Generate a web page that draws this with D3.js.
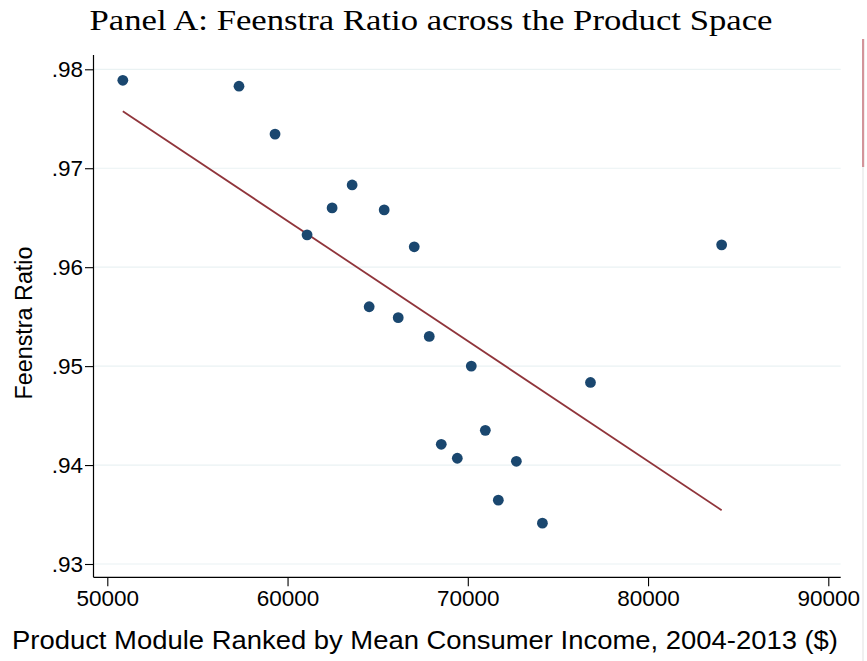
<!DOCTYPE html>
<html>
<head>
<meta charset="utf-8">
<script src="https://cdn.jsdelivr.net/npm/d3@7"></script>
<style>
  html, body { margin: 0; padding: 0; background: #ffffff; }
  svg { display: block; }
</style>
</head>
<body>
<svg id="chart" width="867" height="661"></svg>
<script>
// ---- data ----
const incomeX = [50861, 57306, 59306, 63583, 62472, 65361, 61083, 67028, 84083, 64528,
                 66139, 67861, 70194, 76806, 70972, 68528, 69417, 72694, 71694, 74139];
const feenstraY = [0.97889, 0.97829, 0.97345, 0.96831, 0.96599, 0.96579, 0.96327, 0.96206, 0.96226, 0.95600,
                   0.95490, 0.95300, 0.95000, 0.94835, 0.94351, 0.94210, 0.94069, 0.94038, 0.93645, 0.93413];
const fitX = [50861, 84083];
const fitY = [0.97577, 0.93544];
const xTicks = [50000, 60000, 70000, 80000, 90000];
const yTicks = [0.93, 0.94, 0.95, 0.96, 0.97, 0.98];
const yTickLabels = [".93", ".94", ".95", ".96", ".97", ".98"];
const titleText = "Panel A: Feenstra Ratio across the Product Space";
const xTitle = "Product Module Ranked by Mean Consumer Income, 2004-2013 ($)";
const yTitle = "Feenstra Ratio";

// ---- layout ----
const svg = d3.select("#chart");
const plotLeft = 93.5, plotRight = 840.7, plotTop = 55, plotBottom = 577.3;

const x = d3.scaleLinear().domain([50000, 90000]).range([107.3, 828.3]);
const y = d3.scaleLinear().domain([0.93, 0.98]).range([564, 69.3]);

const sansFont = "'Liberation Sans', Arial, Helvetica, sans-serif";

// gridlines
svg.append("g").selectAll("line").data(yTicks).join("line")
  .attr("x1", plotLeft).attr("x2", plotRight)
  .attr("y1", d => y(d)).attr("y2", d => y(d))
  .attr("stroke", "#eaf2f3").attr("stroke-width", 1.2);

// fit line
svg.append("path")
  .datum(fitX.map((d, i) => [d, fitY[i]]))
  .attr("d", d3.line().x(d => x(d[0])).y(d => y(d[1])))
  .attr("fill", "none").attr("stroke", "#90353b").attr("stroke-width", 1.8);

// points
svg.append("g").selectAll("circle").data(incomeX.map((d, i) => [d, feenstraY[i]])).join("circle")
  .attr("cx", d => x(d[0])).attr("cy", d => y(d[1])).attr("r", 5.4)
  .attr("fill", "#1a476f");

// y axis
const yAxis = d3.axisLeft(y).tickValues(yTicks).tickFormat((d, i) => yTickLabels[i])
  .tickSize(8.5).tickPadding(2).tickSizeOuter(0);
const yg = svg.append("g").attr("transform", `translate(${plotLeft},0)`).call(yAxis);
yg.select(".domain").remove();
yg.selectAll(".tick line").attr("stroke", "#000").attr("stroke-width", 1.1);
yg.selectAll(".tick text").attr("font-family", sansFont).attr("font-size", 22.5).attr("fill", "#000");
svg.append("line").attr("x1", plotLeft).attr("x2", plotLeft).attr("y1", plotTop).attr("y2", plotBottom)
  .attr("stroke", "#000").attr("stroke-width", 1.2);

// x axis
const xAxis = d3.axisBottom(x).tickValues(xTicks).tickFormat(d3.format("d"))
  .tickSize(9).tickPadding(4).tickSizeOuter(0);
const xg = svg.append("g").attr("transform", `translate(0,${plotBottom})`).call(xAxis);
xg.select(".domain").remove();
xg.selectAll(".tick line").attr("stroke", "#000").attr("stroke-width", 1.1);
xg.selectAll(".tick text").attr("font-family", sansFont).attr("font-size", 22.5).attr("fill", "#000");
svg.append("line").attr("x1", plotLeft).attr("x2", plotRight).attr("y1", plotBottom).attr("y2", plotBottom)
  .attr("stroke", "#000").attr("stroke-width", 1.2);

// axis titles
svg.append("text").attr("x", 425).attr("y", 649).attr("text-anchor", "middle")
  .attr("font-family", sansFont).attr("font-size", 25)
  .attr("textLength", 826).attr("lengthAdjust", "spacingAndGlyphs")
  .attr("fill", "#000").text(xTitle);
svg.append("text").attr("transform", "translate(32,323) rotate(-90)").attr("text-anchor", "middle")
  .attr("font-family", sansFont).attr("font-size", 23.5)
  .attr("textLength", 153).attr("lengthAdjust", "spacingAndGlyphs")
  .attr("fill", "#000").text(yTitle);

// title
svg.append("text").attr("x", 431).attr("y", 30).attr("text-anchor", "middle")
  .attr("font-family", "'Liberation Serif', 'DejaVu Serif', serif").attr("font-size", 30)
  .attr("textLength", 683).attr("lengthAdjust", "spacingAndGlyphs")
  .attr("fill", "#000").text(titleText);

// right-edge artifact (scroll indicator)
svg.append("line").attr("x1", 863).attr("x2", 863).attr("y1", 166).attr("y2", 661)
  .attr("stroke", "#f0f0f0").attr("stroke-width", 2);
svg.append("rect").attr("x", 862).attr("y", 39).attr("width", 2.2).attr("height", 128)
  .attr("fill", "#d3949a");
</script>
</body>
</html>
